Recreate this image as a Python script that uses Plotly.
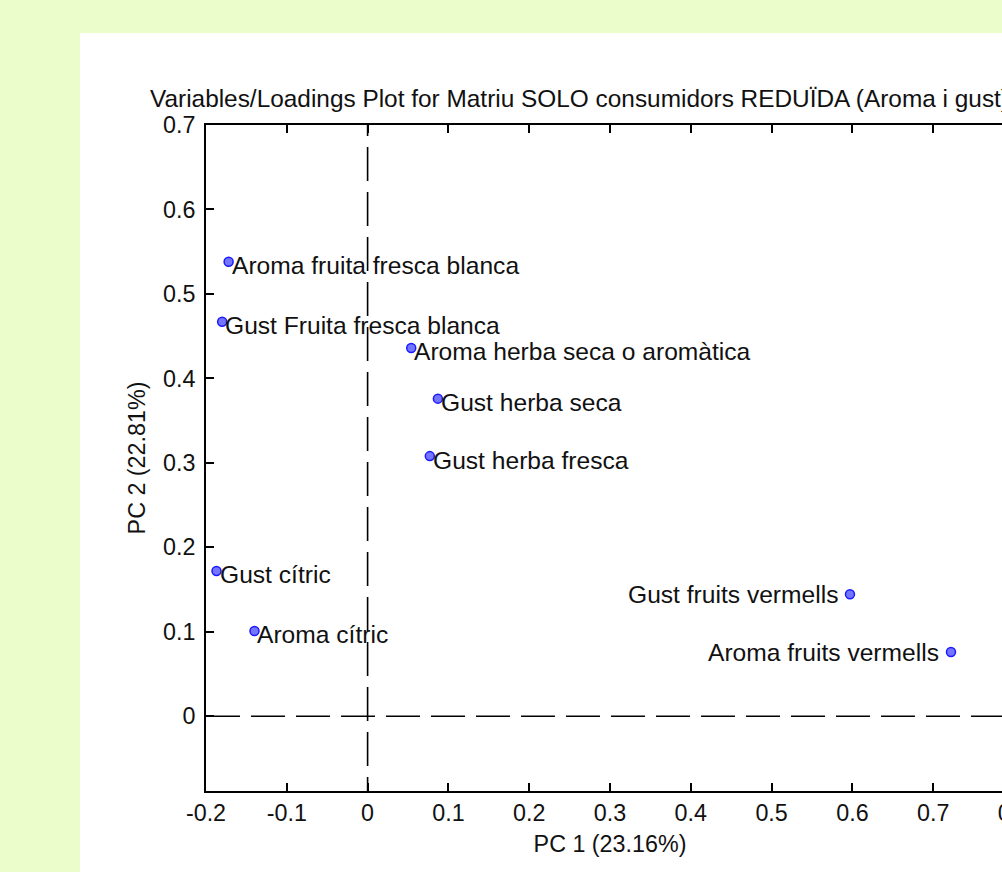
import plotly.graph_objects as go

# ---- data ----
var_names = [
    "Aroma fruita fresca blanca",
    "Gust Fruita fresca blanca",
    "Aroma herba seca o aromàtica",
    "Gust herba seca",
    "Gust herba fresca",
    "Gust cítric",
    "Aroma cítric",
    "Gust fruits vermells",
    "Aroma fruits vermells",
]
pc1 = [-0.172, -0.180, 0.054, 0.087, 0.077, -0.187, -0.140, 0.597, 0.722]
pc2 = [0.538, 0.467, 0.436, 0.376, 0.308, 0.172, 0.101, 0.1445, 0.076]
label_side = ["right"] * 7 + ["left"] * 2

x_ticks = [-0.2, -0.1, 0.0, 0.1, 0.2, 0.3, 0.4, 0.5, 0.6, 0.7, 0.8]
x_tick_labels = ["-0.2", "-0.1", "0", "0.1", "0.2", "0.3", "0.4", "0.5", "0.6", "0.7", "0.8"]
y_ticks = [0.0, 0.1, 0.2, 0.3, 0.4, 0.5, 0.6, 0.7]
y_tick_labels = ["0", "0.1", "0.2", "0.3", "0.4", "0.5", "0.6", "0.7"]
x_range = [-0.2, 0.8]
y_range = [-0.0885, 0.7]

title_text = "Variables/Loadings Plot for Matriu SOLO consumidors REDUÏDA (Aroma i gust)"
x_title = "PC 1 (23.16%)"
y_title = "PC 2 (22.81%)"

# ---- layout geometry ----
W, H = 1100, 872
ML, MT, MB = 206, 125, 81
PW = 808  # plot width in px
MR = W - ML - PW
PH = H - MT - MB

FONT = "Liberation Sans, Arial, sans-serif"
BG = "#ebfdca"
TXT = "#111111"

fig = go.Figure()
fig.add_trace(go.Scatter(
    x=pc1, y=pc2, mode="markers",
    marker=dict(size=9, color="#7474ff", line=dict(color="#1a1aff", width=1.5)),
    cliponaxis=False, hoverinfo="skip", showlegend=False,
))

for name, xv, yv, side in zip(var_names, pc1, pc2, label_side):
    right = side == "right"
    fig.add_annotation(
        x=xv, y=yv, xref="x", yref="y", text=name, showarrow=False,
        xanchor="left" if right else "right", yanchor="middle",
        xshift=1 if right else -10, yshift=-4 if right else 0,
        font=dict(family=FONT, size=24.6, color=TXT),
    )

# white panel
fig.add_shape(type="rect", xref="paper", yref="paper",
              x0=(80 - ML) / PW, x1=(W - ML) / PW + 0.1,
              y0=-0.3, y1=(H - MB - 33) / PH,
              fillcolor="white", line=dict(width=0), layer="below")

# dashed zero lines
fig.add_shape(type="line", xref="x domain", yref="y", x0=0, x1=1, y0=0, y1=0,
              line=dict(color="black", width=1.6, dash="34px,11px"))
fig.add_shape(type="line", xref="x", yref="y", x0=0, x1=0,
              y0=y_range[1] + 0.0272, y1=y_range[0],
              line=dict(color="black", width=1.6, dash="34px,11px"))

axis_common = dict(
    showline=True, linecolor="black", linewidth=1.8, mirror="ticks",
    ticks="inside", ticklen=8, tickwidth=1.6, tickcolor="black",
    showgrid=False, zeroline=False,
    tickfont=dict(family=FONT, size=23.3, color=TXT),
)

fig.update_layout(
    width=W, height=H,
    margin=dict(l=ML, r=MR, t=MT, b=MB, pad=0),
    paper_bgcolor=BG, plot_bgcolor="white",
    title=dict(text=title_text, xref="container", x=150 / W, xanchor="left",
               yref="container", y=1 - 98 / H, yanchor="middle",
               font=dict(family=FONT, size=24.4, color=TXT)),
    xaxis=dict(range=x_range, tickvals=x_ticks, ticktext=x_tick_labels,
               title=dict(text=x_title, font=dict(family=FONT, size=23.3, color=TXT), standoff=11),
               ticklabelstandoff=0, **axis_common),
    yaxis=dict(range=y_range, tickvals=y_ticks, ticktext=y_tick_labels,
               title=dict(text=y_title, font=dict(family=FONT, size=23.3, color=TXT), standoff=11),
               ticklabelstandoff=4, **axis_common),
)

fig.write_html("out.html",
               post_script="document.documentElement.style.overflow='hidden';document.body.style.overflow='hidden';document.body.style.margin='0';")
